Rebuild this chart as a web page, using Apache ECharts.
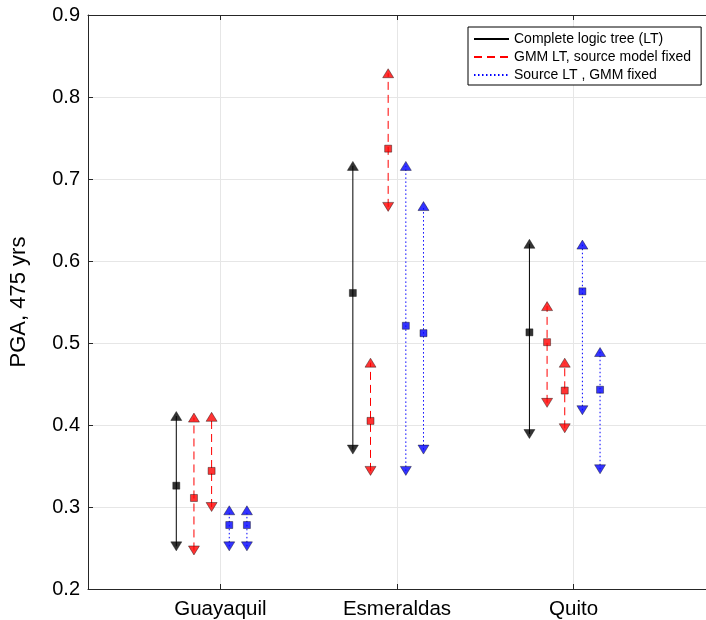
<!DOCTYPE html>
<html>
<head>
<meta charset="utf-8">
<script src="https://cdn.jsdelivr.net/npm/echarts@6/dist/echarts.min.js"></script>
<style>
html,body{margin:0;padding:0;background:#fff}
#chart{width:706px;height:620px}
</style>
</head>
<body>
<div id="chart"></div>
<script>
// cities and x offsets of the five bars in each group
var cities = ['Guayaquil', 'Esmeraldas', 'Quito'];
var offsets = [-0.25, -0.15, -0.05, 0.05, 0.15];
var yTicks = [0.2, 0.3, 0.4, 0.5, 0.6, 0.7, 0.8, 0.9];

// complete logic tree
var ltMean = [0.326, 0.561, 0.513];
var ltUp   = [0.411, 0.716, 0.621];
var ltLo   = [0.252, 0.370, 0.389];
// GMM LT, source model fixed (two bars)
var gmmAMean = [0.311, 0.405, 0.501];
var gmmAUp   = [0.409, 0.476, 0.545];
var gmmALo   = [0.247, 0.344, 0.427];
var gmmBMean = [0.344, 0.737, 0.442];
var gmmBUp   = [0.410, 0.829, 0.476];
var gmmBLo   = [0.300, 0.666, 0.396];
// Source LT, GMM fixed (two bars)
var srcAMean = [0.278, 0.521, 0.563];
var srcAUp   = [0.296, 0.716, 0.620];
var srcALo   = [0.252, 0.344, 0.418];
var srcBMean = [0.278, 0.512, 0.443];
var srcBUp   = [0.296, 0.667, 0.489];
var srcBLo   = [0.252, 0.370, 0.346];

var names = ['Complete logic tree (LT)', 'GMM LT, source model fixed', 'Source LT , GMM fixed'];

var bars = [
  {name: names[0], color: '#000000', dash: 'solid', mean: ltMean, up: ltUp, lo: ltLo},
  {name: names[1], color: '#ff0000', dash: [8, 5], mean: gmmAMean, up: gmmAUp, lo: gmmALo},
  {name: names[1], color: '#ff0000', dash: [8, 5], mean: gmmBMean, up: gmmBUp, lo: gmmBLo},
  {name: names[2], color: '#0000ff', dash: [1.5, 2.5], mean: srcAMean, up: srcAUp, lo: srcALo},
  {name: names[2], color: '#0000ff', dash: [1.5, 2.5], mean: srcBMean, up: srcBUp, lo: srcBLo}
];

var FONT = 'Liberation Sans, Arial, sans-serif';
var series = [];

bars.forEach(function (b, k) {
  cities.forEach(function (c, i) {
    var x = i + 1 + offsets[k];
    series.push({
      name: b.name,
      type: 'line',
      symbol: 'none',
      silent: true,
      lineStyle: {color: b.color, width: 1, type: b.dash},
      itemStyle: {color: b.color},
      data: [[x, b.lo[i]], [x, b.up[i]]],
      z: 2
    });
  });
  var edge = '#000';
  var xs = cities.map(function (c, i) { return i + 1 + offsets[k]; });
  series.push({
    name: 'up' + k, type: 'scatter', symbol: 'triangle', symbolSize: [11, 9],
    itemStyle: {color: b.color, borderColor: edge, borderWidth: 0.5},
    data: xs.map(function (x, i) { return [x, b.up[i]]; }), z: 3
  });
  series.push({
    name: 'lo' + k, type: 'scatter', symbol: 'triangle', symbolRotate: 180, symbolSize: [11, 9],
    itemStyle: {color: b.color, borderColor: edge, borderWidth: 0.5},
    data: xs.map(function (x, i) { return [x, b.lo[i]]; }), z: 3
  });
  series.push({
    name: 'm' + k, type: 'scatter', symbol: 'rect', symbolSize: 7,
    itemStyle: {color: b.color, borderColor: edge, borderWidth: 0.5},
    data: xs.map(function (x, i) { return [x, b.mean[i]]; }), z: 4
  });
});

var chart = echarts.init(document.getElementById('chart'), null, {renderer: 'canvas'});
chart.setOption({
  animation: false,
  textStyle: {fontFamily: FONT},
  grid: {left: 88, top: 15, width: 626, height: 574},
  legend: {
    data: names,
    orient: 'vertical',
    left: 468, top: 27,
    backgroundColor: '#fff',
    borderColor: '#000', borderWidth: 1,
    padding: [5, 10, 3, 5],
    itemWidth: 35, itemHeight: 12, itemGap: 4,
    itemStyle: {opacity: 0},
    textStyle: {fontFamily: FONT, fontSize: 14, color: '#000'},
    selectedMode: false
  },
  xAxis: [{
    type: 'value', min: 0.25, max: 3.75,
    axisLine: {lineStyle: {color: '#262626'}},
    axisTick: {inside: true, length: 5, customValues: [1, 2, 3], lineStyle: {color: '#262626'}},
    axisLabel: {
      customValues: [1, 2, 3], margin: 10, fontSize: 20.5, color: '#000', fontFamily: FONT,
      formatter: function (v) { return cities[Math.round(v) - 1]; }
    },
    splitLine: {show: true, lineStyle: {color: '#e6e6e6'}}
  }, {
    type: 'value', min: 0.25, max: 3.75, position: 'top',
    axisLine: {show: true, lineStyle: {color: '#262626'}},
    axisTick: {show: true, inside: true, length: 5, customValues: [1, 2, 3], lineStyle: {color: '#262626'}},
    axisLabel: {show: false},
    splitLine: {show: false}
  }],
  yAxis: {
    type: 'value', min: 0.2, max: 0.9, interval: 0.1,
    name: 'PGA, 475 yrs', nameLocation: 'middle', nameGap: 58, nameRotate: 90,
    nameTextStyle: {fontSize: 22, color: '#000', fontFamily: FONT},
    axisLine: {show: true, lineStyle: {color: '#262626'}},
    axisTick: {show: true, inside: true, length: 5, lineStyle: {color: '#262626'}},
    axisLabel: {
      fontSize: 20, color: '#000', margin: 8, fontFamily: FONT,
      formatter: function (v) { return v.toFixed(1); }
    },
    splitLine: {show: true, lineStyle: {color: '#e6e6e6'}}
  },
  series: series
});
</script>
</body>
</html>
